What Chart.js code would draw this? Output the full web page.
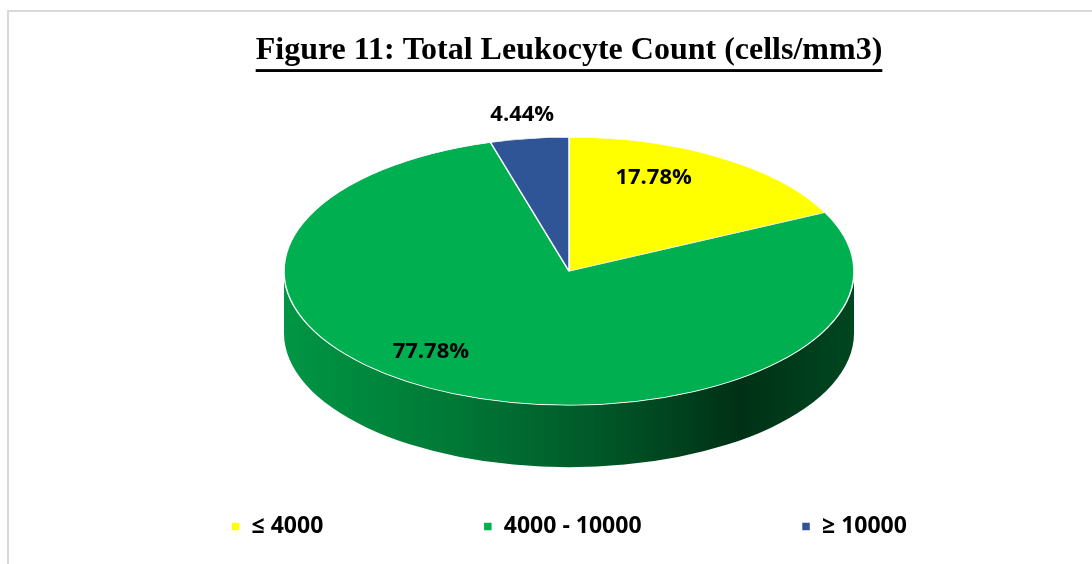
<!DOCTYPE html>
<html>
<head>
<meta charset="utf-8">
<script src="https://cdn.jsdelivr.net/npm/chart.js"></script>
<style>
    html, body { margin: 0; padding: 0; background: #fff; overflow: hidden; width: 1092px; height: 564px; }
    #frame {
        position: absolute; left: 7px; top: 10px; width: 1200px; height: 600px;
        border-top: 2px solid #d9d9d9; border-left: 2px solid #d9d9d9;
    }
    #wrap { position: absolute; left: 9px; top: 12px; width: 1120px; height: 536px; }
</style>
</head>
<body>
<div id="frame"></div>
<div id="wrap"><canvas id="wbcChart"></canvas></div>
<script>
// ==============================================================================
// 1. DATA
// ==============================================================================
const categories = ['\u2264 4000', '4000 - 10000', '\u2265 10000'];
const percentages = [17.78, 77.78, 4.44];
const sliceColors = ['#ffff00', '#00b050', '#2f5597'];

// ==============================================================================
// 2. HELPERS
// ==============================================================================
function shade(hex, f) {
    const n = parseInt(hex.slice(1), 16);
    const r = Math.round(((n >> 16) & 255) * f);
    const g = Math.round(((n >> 8) & 255) * f);
    const b = Math.round((n & 255) * f);
    return `rgb(${r},${g},${b})`;
}

/**
 * Fake 3D pie: draws the visible side wall, squashes the pie vertically,
 * then writes the percentage labels on top.
 */
const pie3d = {
    id: 'pie3d',
    beforeDatasetsDraw(chart, args, opts) {
        const meta = chart.getDatasetMeta(0);
        if (!meta.data.length) return;
        const ctx = chart.ctx;
        const first = meta.data[0];
        const cx = first.x, cy = first.y, R = first.outerRadius;
        const ry = R * opts.tilt;

        meta.data.forEach((arc, i) => {
            const s = arc.startAngle, e = arc.endAngle;
            for (let k = -1; k <= 1; k++) {
                const a = Math.max(s, 2 * Math.PI * k);
                const b = Math.min(e, 2 * Math.PI * k + Math.PI);
                if (b <= a) continue;
                const grad = ctx.createLinearGradient(cx - R, 0, cx + R, 0);
                opts.sideShades.forEach(([stop, f]) => grad.addColorStop(stop, shade(sliceColors[i], f)));
                ctx.beginPath();
                ctx.ellipse(cx, cy, R, ry, 0, a, b, false);
                ctx.ellipse(cx, cy + opts.depth, R, ry, 0, b, a, true);
                ctx.closePath();
                ctx.fillStyle = grad;
                ctx.fill();
            }
        });

        ctx.save();
        ctx.translate(cx, cy);
        ctx.scale(1, opts.tilt);
        ctx.translate(-cx, -cy);
    },
    afterDatasetsDraw(chart, args, opts) {
        const meta = chart.getDatasetMeta(0);
        if (!meta.data.length) return;
        const ctx = chart.ctx;
        ctx.restore();

        ctx.save();
        ctx.font = opts.font;
        ctx.fillStyle = '#000';
        ctx.textAlign = 'center';
        ctx.textBaseline = 'middle';
        meta.data.forEach((arc, i) => {
            const mid = (arc.startAngle + arc.endAngle) / 2 + opts.labelTurn[i] * Math.PI / 180;
            const f = opts.labelRadius[i];
            const x = arc.x + arc.outerRadius * f * Math.cos(mid);
            const y = arc.y + arc.outerRadius * opts.tilt * f * Math.sin(mid);
            ctx.fillText(percentages[i].toFixed(2) + '%', x, y);
        });
        ctx.restore();
    },
    afterDraw(chart) {
        // underline the title like the original figure caption
        const tb = chart.titleBlock;
        if (!tb) return;
        const ctx = chart.ctx;
        const font = Chart.helpers.toFont(chart.options.plugins.title.font);
        ctx.save();
        ctx.font = font.string;
        const w = ctx.measureText(chart.options.plugins.title.text).width;
        const cxT = (tb.left + tb.right) / 2;
        const cyT = tb.top + tb.options.padding.top + font.lineHeight / 2;
        ctx.fillStyle = '#000';
        ctx.fillRect(cxT - w / 2, cyT + font.size * 0.56, w, Math.max(2, font.size * 0.09));
        ctx.restore();
    }
};

// ==============================================================================
// 3. CHART
// ==============================================================================
new Chart(document.getElementById('wbcChart'), {
    type: 'pie',
    data: {
        labels: categories,
        datasets: [{
            data: percentages,
            backgroundColor: sliceColors,
            borderColor: '#ffffff',
            borderWidth: 1.5,
            radius: 285
        }]
    },
    options: {
        responsive: true,
        maintainAspectRatio: false,
        animation: false,
        plugins: {
            title: {
                display: true,
                text: 'Figure 11: Total Leukocyte Count (cells/mm3)',
                color: '#000',
                font: { family: '"Liberation Serif", "Times New Roman", serif', size: 32, weight: 'bold' },
                padding: { top: 20, bottom: 117 }
            },
            legend: {
                position: 'bottom',
                labels: {
                    color: '#000',
                    boxWidth: 9,
                    boxHeight: 9,
                    padding: 160,
                    font: { family: '"Open Sans", sans-serif', size: 23, weight: 'bold' }
                }
            },
            tooltip: { enabled: false },
            pie3d: {
                tilt: 0.47,
                depth: 62,
                labelRadius: [0.76, 0.77, 1.18],
                labelTurn: [-9, 15, 0],
                font: 'bold 22px "Open Sans", sans-serif',
                sideShades: [[0, 0.85], [0.3, 0.68], [0.55, 0.5], [0.8, 0.28], [1, 0.4]]
            }
        }
    },
    plugins: [pie3d]
});
</script>
</body>
</html>
